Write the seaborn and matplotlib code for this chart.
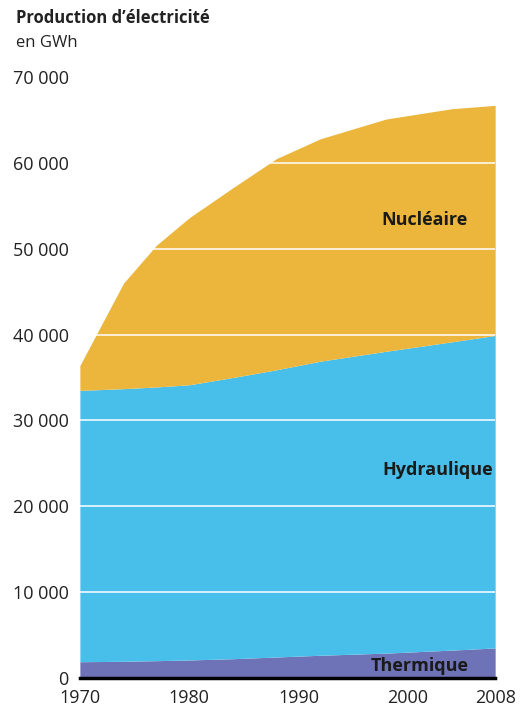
import matplotlib
matplotlib.use("Agg")
import matplotlib.pyplot as plt
import seaborn as sns

# Production d'électricité (GWh)
years = [1970, 1972, 1974, 1977, 1980, 1984, 1988, 1992, 1998, 2004, 2008]
thermique = [1900, 1920, 1950, 2020, 2100, 2250, 2450, 2650, 2900, 3250, 3500]
hydraulique = [31600, 31680, 31750, 31880, 32050, 32750, 33450, 34250, 35150, 35900, 36400]
nucleaire = [2900, 7600, 12300, 16500, 19450, 22100, 24600, 25900, 27050, 27150, 26800]

y_ticks = [0, 10000, 20000, 30000, 40000, 50000, 60000, 70000]
y_labels = ['0', '10 000', '20 000', '30 000', '40 000', '50 000', '60 000', '70 000']
x_ticks = [1970, 1980, 1990, 2000, 2008]

colors = ['#6e72b6', '#48bfea', '#ebb63b']

sns.set_theme(style="white")
plt.rcParams['font.family'] = ['Open Sans', 'DejaVu Sans']

fig = plt.figure(figsize=(5.29, 7.09), dpi=100)
ax = fig.add_axes([0.151, 0.0437, 0.785, 0.8477])

ax.stackplot(years, thermique, hydraulique, nucleaire, colors=colors, linewidth=0)

# white grid lines over the areas
for t in y_ticks[1:]:
    ax.axhline(t, color='white', lw=1.1, zorder=3)

ax.set_xlim(1970, 2008)
ax.set_ylim(0, 70000)
sns.despine(ax=ax, left=True, right=True, top=True)
ax.spines['bottom'].set_color('black')
ax.spines['bottom'].set_linewidth(2.5)
ax.spines['bottom'].set_zorder(5)

ax.set_yticks(y_ticks)
ax.set_yticklabels(y_labels, fontsize=13, color='#222222')
ax.set_xticks(x_ticks)
ax.set_xticklabels([str(x) for x in x_ticks], fontsize=13, color='#222222')
ax.tick_params(axis='y', length=0, pad=8)
ax.tick_params(axis='x', length=5, width=1.2, color='black', direction='out', pad=3)

# series labels
ax.text(2001.5, 53300, 'Nucléaire', ha='center', va='center', fontsize=13, fontweight='bold', color='#1a1a1a', zorder=6)
ax.text(2002.7, 24200, 'Hydraulique', ha='center', va='center', fontsize=13, fontweight='bold', color='#1a1a1a', zorder=6)
ax.text(2001.1, 1400, 'Thermique', ha='center', va='center', fontsize=13, fontweight='bold', color='#1a1a1a', zorder=6)

fig.text(0.03, 0.975, 'Production d’électricité', ha='left', va='center', fontsize=12, fontweight='bold', color='#222222')
fig.text(0.03, 0.94, 'en GWh', ha='left', va='center', fontsize=12, color='#222222')

fig.savefig('out.png', dpi=100)
